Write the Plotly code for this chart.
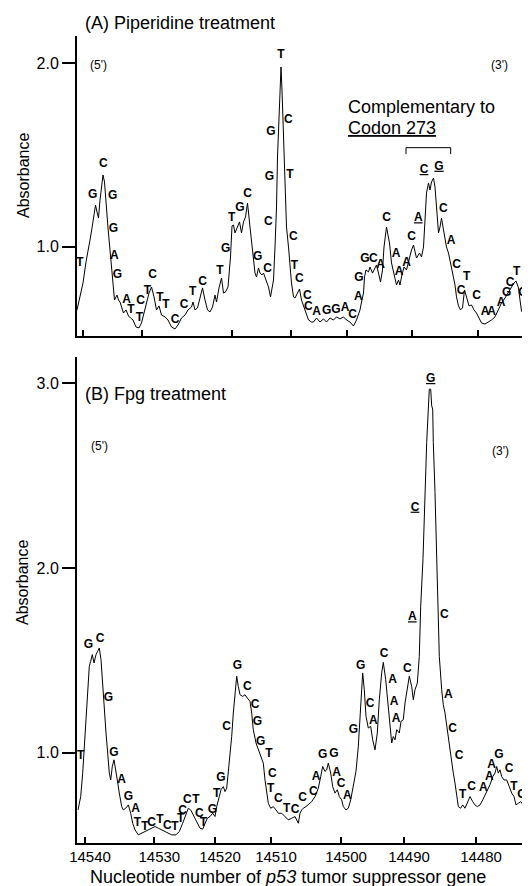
import plotly.graph_objects as go

# ---------------- data ----------------
# Migration position along the scan (a.u., 0 = left edge) and absorbance
pos_a = [0, 3, 6, 9, 11, 13, 15, 17, 18.5, 20,
         21.5, 23, 25, 26, 27.5, 29, 31, 33, 34.5, 36,
         37.5, 40, 41.5, 43, 45, 46.5, 49, 51.5, 53.5, 56,
         59, 62, 64.5, 68, 69.5, 72, 74.5, 77, 79.5, 82,
         84.5, 88, 91, 94.5, 98, 101, 104.5, 108, 111, 114.5,
         116, 118, 120.5, 123, 125.5, 128, 130.5, 133, 135.5, 138,
         139.5, 142, 144.5, 146.5, 148.5, 151, 153.5, 155, 156.5, 158,
         160.5, 162.5, 164.5, 166.5, 168.5, 170.5, 173, 175.5, 178, 179.5,
         181.5, 183, 185, 186.5, 189, 191.5, 193.5, 196.5, 198, 199.5,
         200.5, 202, 203, 204, 205, 206.5, 208, 209.5, 211.5, 213,
         214.5, 216.5, 218, 220.5, 222.5, 224.5, 227, 229, 231.5, 234.5,
         236.5, 239.5, 243, 246.5, 249.5, 253, 256.5, 259.5, 263, 266.5,
         269.5, 273, 276.5, 279.5, 283, 284.5, 286.5, 287.5, 289, 291.5,
         293, 295.5, 298, 299.5, 301.5, 303.5, 305.5, 307, 309.5, 312.5,
         314.5, 316.5, 318, 319.5, 321.5, 323, 324.5, 327, 329.5, 332.5,
         334.5, 336.5, 338, 339.5, 342.5, 344.5, 346.5, 348, 349.5, 351.5,
         353, 354.5, 356.5, 358, 359.5, 361.5, 363, 364.5, 366.5, 368,
         369.5, 371.5, 373, 374.5, 376.5, 378, 379.5, 381.5, 383.5, 385.5,
         387.5, 389.5, 392, 394.5, 397, 399.5, 402.5, 404.5, 408, 411.5,
         414.5, 418, 421.5, 424.5, 428, 431.5, 434.5, 437, 439, 441.5,
         443, 444.5, 446.5, 449]
abs_a = [0.655, 0.726, 0.802, 0.917, 0.971, 1.036, 1.102, 1.173, 1.227, 1.189,
         1.156, 1.254, 1.364, 1.391, 1.353, 1.227, 1.102, 0.982, 0.884, 0.764,
         0.709, 0.736, 0.709, 0.698, 0.666, 0.638, 0.655, 0.622, 0.611, 0.600,
         0.562, 0.557, 0.584, 0.655, 0.693, 0.747, 0.780, 0.726, 0.655, 0.677,
         0.627, 0.617, 0.600, 0.562, 0.551, 0.573, 0.611, 0.627, 0.655, 0.671,
         0.698, 0.655, 0.666, 0.726, 0.775, 0.709, 0.655, 0.644, 0.671, 0.736,
         0.698, 0.775, 0.829, 0.747, 0.753, 0.780, 0.944, 1.113, 1.118, 1.075,
         1.107, 1.135, 1.075, 1.135, 1.162, 1.238, 1.107, 0.965, 0.856, 0.835,
         0.884, 0.856, 0.846, 0.856, 0.818, 0.780, 0.726, 0.818, 0.998, 1.216,
         1.489, 1.707, 1.871, 1.980, 1.854, 1.582, 1.309, 1.107, 0.998, 0.889,
         0.802, 0.726, 0.720, 0.747, 0.769, 0.709, 0.671, 0.638, 0.600, 0.589,
         0.589, 0.611, 0.589, 0.606, 0.589, 0.611, 0.600, 0.617, 0.606, 0.617,
         0.600, 0.589, 0.567, 0.600, 0.655, 0.698, 0.747, 0.835, 0.873, 0.862,
         0.889, 0.856, 0.884, 0.900, 0.856, 0.807, 0.873, 0.998, 1.107, 1.020,
         0.911, 0.856, 0.835, 0.791, 0.818, 0.791, 0.835, 0.889, 0.873, 0.944,
         0.982, 1.009, 0.965, 0.938, 0.965, 0.944, 0.998, 1.145, 1.293, 1.347,
         1.309, 1.353, 1.374, 1.325, 1.216, 1.075, 1.107, 1.156, 1.091, 1.036,
         0.998, 0.965, 0.927, 0.884, 0.846, 0.791, 0.726, 0.677, 0.655, 0.666,
         0.764, 0.726, 0.677, 0.682, 0.655, 0.638, 0.600, 0.584, 0.578, 0.589,
         0.600, 0.617, 0.655, 0.693, 0.720, 0.753, 0.775, 0.802, 0.813, 0.775,
         0.709, 0.649, 0.638, 0.622]

pos_b = [1, 3.7, 5.7, 7.3, 9, 10.7, 12.3, 13.7, 15.3, 17,
         19, 20.7, 22.3, 24, 25.7, 27.3, 29, 30.7, 32.3, 33.7,
         35.3, 37, 38.7, 40.3, 42.3, 44.7, 46.3, 48.7, 51.3, 53.7,
         55.7, 58, 61.3, 64.7, 68, 71.3, 74.7, 78, 81.3, 84.7,
         88, 91.3, 94.7, 99, 102.3, 105.7, 109, 111.3, 113.7, 117,
         119.7, 123, 125.7, 128, 130.3, 133, 135.7, 138, 139.7, 142.3,
         144, 146.3, 148, 149.7, 151.3, 153, 154.7, 156.3, 158, 159.7,
         161.3, 163, 165.7, 168, 170.3, 173, 174.7, 176.3, 179, 181.3,
         183.7, 186.3, 188, 189.7, 191.3, 193.7, 196.3, 199, 201.3, 204.7,
         208, 211.3, 214.7, 218, 221.3, 223, 224.7, 226.3, 229, 231.3,
         234.7, 238, 241.3, 243.7, 245.7, 248, 249.7, 251.3, 253.7, 255.7,
         258, 260.3, 262.3, 264.7, 266.3, 269, 271.3, 273.7, 276.3, 279,
         281.3, 283, 283.7, 285.7, 287.3, 289, 291.3, 293.7, 295.7, 298,
         300.3, 302.3, 304.7, 306.3, 308.7, 310.7, 313, 314.7, 316.3, 318,
         319.7, 322.3, 324, 326.3, 328, 330.3, 332.3, 334.7, 336.3, 338,
         340.3, 342.3, 343.7, 346, 348, 349.7, 351.3, 352.3, 353.7, 354.7,
         355.7, 356.3, 358, 359.7, 360.3, 362.3, 364.7, 366.3, 368, 369.7,
         371.3, 373, 374.7, 376.3, 378, 379.7, 381.3, 383.7, 385.7, 388,
         390.3, 393, 395.7, 398, 400.3, 403, 405.7, 408, 410.3, 413,
         415.7, 418, 419.7, 421.3, 423, 424.7, 427, 429.7, 432.3, 434.7,
         437, 439, 441.3, 443.7, 446.3, 448]
abs_b = [0.691, 0.763, 0.890, 1.034, 1.215, 1.359, 1.468, 1.495, 1.531, 1.486,
         1.531, 1.549, 1.567, 1.504, 1.359, 1.215, 1.107, 0.998, 0.890, 0.853,
         0.926, 0.962, 0.890, 0.853, 0.782, 0.709, 0.691, 0.700, 0.718, 0.673,
         0.619, 0.583, 0.556, 0.565, 0.574, 0.583, 0.592, 0.601, 0.592, 0.583,
         0.574, 0.565, 0.556, 0.556, 0.574, 0.619, 0.673, 0.700, 0.691, 0.655,
         0.619, 0.592, 0.587, 0.619, 0.646, 0.655, 0.673, 0.655, 0.709, 0.763,
         0.800, 0.817, 0.790, 0.808, 0.890, 0.980, 1.088, 1.215, 1.341, 1.414,
         1.359, 1.314, 1.305, 1.314, 1.296, 1.278, 1.215, 1.125, 1.053, 1.016,
         0.980, 0.944, 0.853, 0.782, 0.727, 0.700, 0.709, 0.691, 0.673, 0.673,
         0.655, 0.637, 0.646, 0.655, 0.619, 0.673, 0.691, 0.700, 0.709, 0.718,
         0.736, 0.763, 0.808, 0.871, 0.926, 0.899, 0.908, 0.944, 0.890, 0.817,
         0.782, 0.800, 0.763, 0.745, 0.709, 0.691, 0.700, 0.745, 0.817, 0.900,
         1.034, 1.179, 1.251, 1.432, 1.341, 1.197, 1.134, 1.143, 1.070, 1.016,
         1.107, 1.287, 1.432, 1.489, 1.396, 1.269, 1.143, 1.053, 1.088, 1.070,
         1.125, 1.107, 1.170, 1.179, 1.269, 1.359, 1.414, 1.359, 1.287, 1.341,
         1.377, 1.522, 1.793, 2.050, 2.408, 2.679, 2.859, 2.967, 2.967, 2.877,
         2.859, 2.679, 2.408, 2.046, 1.793, 1.522, 1.341, 1.260, 1.215, 1.143,
         1.070, 0.998, 0.944, 0.890, 0.836, 0.763, 0.709, 0.700, 0.718, 0.700,
         0.727, 0.763, 0.736, 0.718, 0.709, 0.718, 0.745, 0.772, 0.800, 0.827,
         0.871, 0.890, 0.926, 0.890, 0.908, 0.871, 0.853, 0.853, 0.817, 0.782,
         0.763, 0.718, 0.727, 0.736, 0.718, 0.727]

# Base calls (same sequence read in both lanes)
bases = "TGCGGAGATTCTCTTCCTCTGTGCGCCGGTCTCTCCCAGGACAGGCACAAACACGCACCTCAAAGCTG"
codon_273 = [52, 53, 54]   # underlined bases (complementary to codon 273)

base_pos_a = [3, 15.7, 26.3, 35.7, 36.3, 37.3, 40.3, 49.7, 54, 62.3,
              63.7, 70.3, 75.7, 83, 89, 98, 107, 115.7, 125.7, 143,
              148.7, 154.7, 163, 170.7, 180.7, 190.7, 191.3, 192.3, 194, 204,
              211.3, 213, 216.3, 217.3, 222.3, 230.3, 231.3, 239.7, 249.7, 259,
              268, 275.7, 281.3, 282, 288, 296.3, 303.7, 309.7, 319, 322,
              329.7, 334.7, 341.3, 347, 362, 366.3, 374, 379.7, 384, 389.7,
              399.7, 408, 414.7, 424, 429.7, 433, 439.7, 446]
base_abs_a = [0.909, 1.282, 1.449, 1.278, 1.095, 0.949, 0.846, 0.709, 0.655, 0.609,
              0.705, 0.758, 0.846, 0.718, 0.682, 0.600, 0.682, 0.754, 0.809, 0.869,
              0.986, 1.155, 1.209, 1.287, 0.942, 0.877, 1.136, 1.378, 1.627, 2.045,
              1.691, 1.391, 1.051, 0.896, 0.822, 0.731, 0.673, 0.645, 0.651, 0.655,
              0.664, 0.627, 0.727, 0.828, 0.931, 0.931, 0.900, 1.155, 0.960, 0.864,
              0.909, 1.054, 1.155, 1.418, 1.436, 1.204, 1.033, 0.900, 0.760, 0.833,
              0.731, 0.645, 0.645, 0.691, 0.749, 0.804, 0.864, 0.749]

base_pos_b = [3.7, 11.3, 23, 31.3, 37, 44.7, 51.3, 58.7, 60.3, 68,
              74.7, 83, 90.3, 98, 103.7, 105.7, 110.3, 119, 122.3, 126.3,
              135.3, 139.7, 144, 149.7, 160.3, 170.3, 178, 180.3, 183.7, 192,
              195.3, 193.7, 201.3, 209.7, 218, 225.7, 236.3, 239, 245.7, 257,
              259.7, 264, 270.3, 276.3, 283.7, 293, 296.3, 307, 315.7, 317,
              319, 330.3, 335.3, 338, 353.7, 367.3, 371.3, 375.7, 382, 385.7,
              394.7, 406.3, 412.3, 414.7, 422, 432, 437, 445]
base_abs_b = [0.980, 1.585, 1.616, 1.296, 0.998, 0.853, 0.760, 0.696, 0.619, 0.601,
              0.622, 0.637, 0.604, 0.601, 0.640, 0.686, 0.745, 0.745, 0.668, 0.619,
              0.691, 0.776, 0.863, 1.139, 1.468, 1.356, 1.256, 1.164, 1.061, 0.995,
              0.886, 0.803, 0.749, 0.695, 0.691, 0.754, 0.787, 0.871, 0.989, 0.995,
              0.893, 0.832, 0.767, 1.121, 1.471, 1.264, 1.170, 1.537, 1.396, 1.275,
              1.184, 1.454, 1.733, 2.326, 3.022, 1.744, 1.311, 1.128, 0.980, 0.772,
              0.817, 0.808, 0.868, 0.935, 0.989, 0.911, 0.814, 0.772]

# Nucleotide-number ticks (the scan axis is not linear in nucleotides)
tick_labels = ["14540", "14530", "14520", "14510", "14500", "14490", "14480"]
tick_pos_a = [5.7, 64.7, 154.7, 214, 269.7, 334.7, 401.3]
tick_pos_b = [8, 77.3, 138, 194, 264, 327, 399]

# ---------------- figure ----------------
FONT = "Liberation Sans, Arial, Helvetica, sans-serif"


def base_text(seq, marked):
    return [f"<u>{b}</u>" if i in marked else b for i, b in enumerate(seq)]


fig = go.Figure()
fig.add_trace(go.Scatter(x=pos_a, y=abs_a, mode="lines", xaxis="x", yaxis="y",
                         line=dict(color="black", width=1), hoverinfo="skip"))
fig.add_trace(go.Scatter(x=pos_b, y=abs_b, mode="lines", xaxis="x2", yaxis="y2",
                         line=dict(color="black", width=1), hoverinfo="skip"))
txt = base_text(bases, codon_273)
fig.add_trace(go.Scatter(x=base_pos_a, y=base_abs_a, mode="text", text=txt,
                         xaxis="x", yaxis="y", cliponaxis=False,
                         textposition="middle center",
                         textfont=dict(family=FONT, size=12, color="black", weight="bold")))
fig.add_trace(go.Scatter(x=base_pos_b, y=base_abs_b, mode="text", text=txt,
                         xaxis="x2", yaxis="y2", cliponaxis=False,
                         textposition="middle center",
                         textfont=dict(family=FONT, size=12, color="black", weight="bold")))

axis_common = dict(showline=True, linecolor="black", linewidth=2, showgrid=False,
                   zeroline=False, tickcolor="black", mirror=False)

# The page body adds an 8px margin, so the figure is sized/offset to compensate.
fig.update_layout(
    width=522, height=878,
    margin=dict(l=69, r=0, t=28, b=43),
    paper_bgcolor="white", plot_bgcolor="white",
    showlegend=False,
    font=dict(family=FONT, color="black"),
    xaxis=dict(domain=[0, 1], anchor="y", range=[0, 453], ticks="inside", ticklen=6,
               tickwidth=1.5, tickvals=tick_pos_a, showticklabels=False, **axis_common),
    yaxis=dict(domain=[0.6283, 1], anchor="x", range=[0.513, 2.149], ticks="outside",
               ticklen=13, tickwidth=1.5, tickvals=[1.0, 2.0], ticktext=["1.0", "2.0"],
               tickfont=dict(size=16), **axis_common),
    xaxis2=dict(domain=[0, 1], anchor="y2", range=[0, 453], ticks="inside", ticklen=6,
                tickwidth=1.5, tickvals=tick_pos_b, ticktext=tick_labels,
                ticklabelshift=5, ticklabelstandoff=-1, tickfont=dict(size=15),
                **axis_common),
    yaxis2=dict(domain=[0, 0.6022], anchor="x2", range=[0.512, 3.141], ticks="outside",
                ticklen=13, tickwidth=1.5, tickvals=[1.0, 2.0, 3.0],
                ticktext=["1.0", "2.0", "3.0"], tickfont=dict(size=16), **axis_common),
)

ann = []
ann.append(dict(text="(A) Piperidine treatment", xref="x", yref="paper", x=5.7, y=1.0165,
                xanchor="left", yanchor="middle", showarrow=False, font=dict(size=18)))
ann.append(dict(text="(B) Fpg treatment", xref="x2", yref="y2", x=5.7, y=2.94,
                xanchor="left", yanchor="middle", showarrow=False, font=dict(size=18)))
for xr, yr, x5, y5, x3, y3 in [("x", "y", 21, 1.991, 422.3, 1.991),
                               ("x2", "y2", 22.3, 2.660, 423, 2.633)]:
    ann.append(dict(text="(5')", xref=xr, yref=yr, x=x5, y=y5, showarrow=False,
                    font=dict(size=12)))
    ann.append(dict(text="(3')", xref=xr, yref=yr, x=x3, y=y3, showarrow=False,
                    font=dict(size=12)))
ann.append(dict(text="Complementary to", xref="x", yref="y", x=269, y=1.763,
                xanchor="left", yanchor="middle", showarrow=False, font=dict(size=18)))
ann.append(dict(text="<u>Codon 273</u>", xref="x", yref="y", x=269, y=1.645,
                xanchor="left", yanchor="middle", showarrow=False, font=dict(size=18)))
ann.append(dict(text="Absorbance", xref="paper", yref="paper", x=-0.1192, y=0.8265,
                textangle=-90, xanchor="center", yanchor="middle", showarrow=False,
                font=dict(size=16)))
ann.append(dict(text="Absorbance", xref="paper", yref="paper", x=-0.1192, y=0.3222,
                textangle=-90, xanchor="center", yanchor="middle", showarrow=False,
                font=dict(size=16)))
ann.append(dict(text="Nucleotide number of <i>p53</i> tumor suppressor gene",
                xref="paper", yref="paper", x=0.4647, y=-0.0422,
                xanchor="center", yanchor="middle", showarrow=False, font=dict(size=18)))
fig.update_layout(annotations=ann)

# bracket over the codon-273 bases
fig.add_shape(type="path", xref="x", yref="y",
              path="M 329,1.505 L 329,1.540 L 373.7,1.540 L 373.7,1.505",
              line=dict(color="black", width=1))

fig.write_html("out.html")
